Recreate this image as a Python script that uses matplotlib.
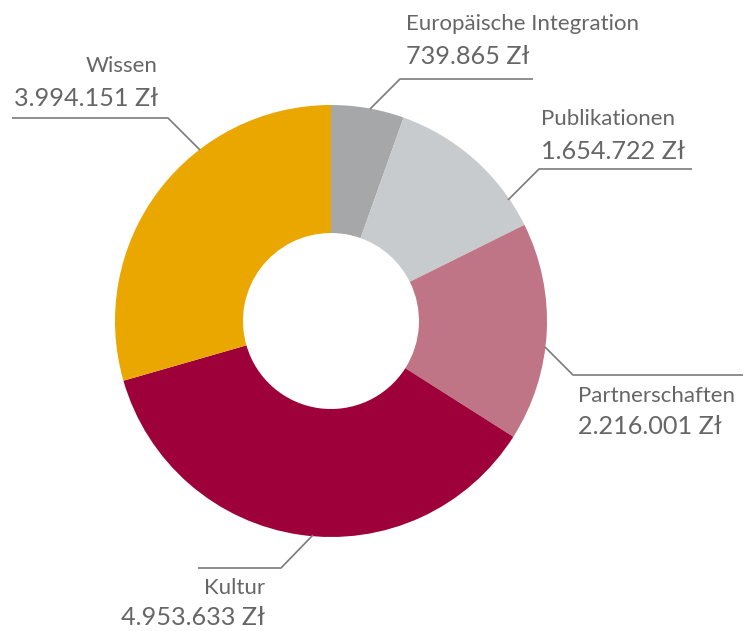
import matplotlib
matplotlib.use("Agg")
import matplotlib.pyplot as plt

categories = ["Europäische Integration", "Publikationen", "Partnerschaften", "Kultur", "Wissen"]
values = [739865, 1654722, 2216001, 4953633, 3994151]
value_labels = ["739.865 Zł", "1.654.722 Zł", "2.216.001 Zł", "4.953.633 Zł", "3.994.151 Zł"]
colors = ["#a6a7a9", "#c8cbcd", "#bf7585", "#9e0039", "#e9a700"]

W, H = 751, 631
fig = plt.figure(figsize=(W / 100, H / 100), dpi=100)
ax = fig.add_axes([0, 0, 1, 1])

def Y(y):
    return H - y

cx, cy, R, r_in = 331, 321, 216, 88
ax.pie(values, colors=colors, startangle=90, counterclock=False,
       center=(cx, Y(cy)), radius=R, frame=True,
       wedgeprops=dict(width=R - r_in, linewidth=0))
ax.set_xlim(0, W)
ax.set_ylim(0, H)
ax.axis("off")

# leader lines (pixel positions): (edge point, elbow, end)
lines = [
    [(370, 109), (400, 79), (533, 79)],
    [(508, 200), (539, 169), (692, 169)],
    [(545, 347), (573, 375), (743, 375)],
    [(313, 535), (281, 568), (198, 568)],
    [(200, 150), (168, 118), (12, 118)],
]
for pts in lines:
    ax.plot([p[0] for p in pts], [Y(p[1]) for p in pts], color="#7a7a7a", lw=1.2,
            solid_capstyle="butt")

# text placements: (x, name_baseline, value_baseline, ha)
txt = [
    (406, 30, 64, "left"),
    (541, 125, 159, "left"),
    (578, 402, 434, "left"),
    (265, 594, 625, "right"),
    (158, 72, 106, "right"),
]
font = "Lato"
for (x, ny, vy, ha), name, val in zip(txt, categories, value_labels):
    ax.text(x, Y(ny), name, ha=ha, va="baseline", fontsize=16, color="#666666", family=font)
    ax.text(x, Y(vy), val, ha=ha, va="baseline", fontsize=18.2, color="#666666", family=font)

fig.savefig("out.png", dpi=100)
